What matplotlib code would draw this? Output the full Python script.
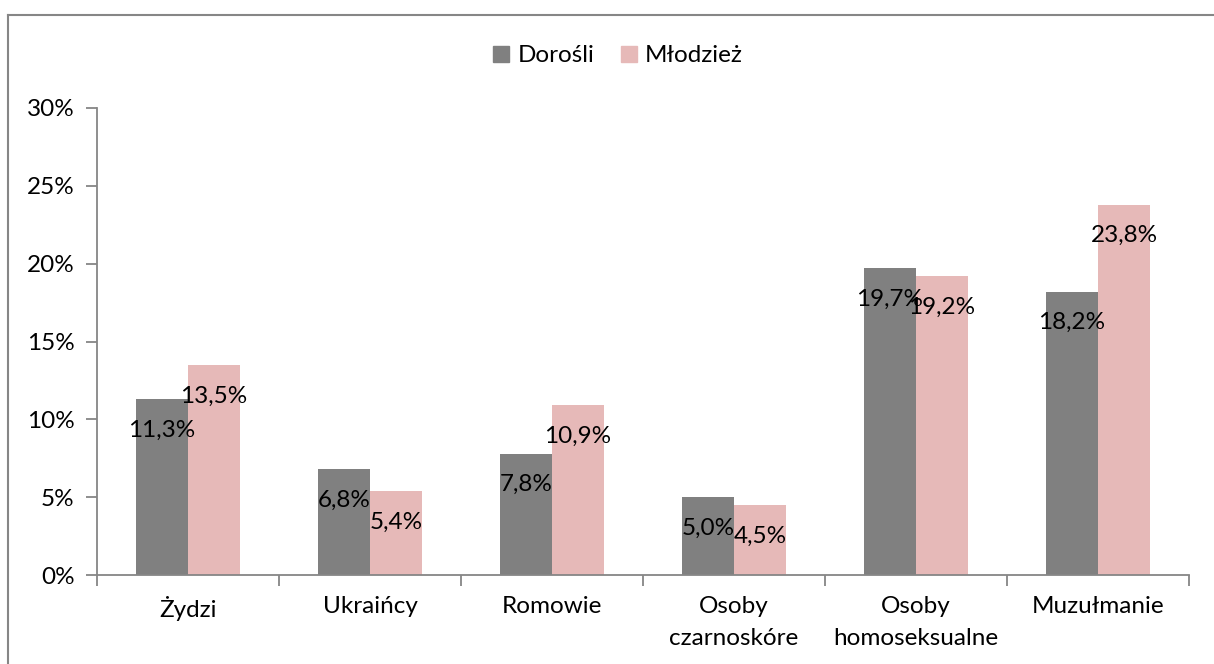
import numpy as np
import matplotlib.pyplot as plt
from matplotlib.patches import Patch

# --------------------------------------------------------------
# Data
# --------------------------------------------------------------
categories = ["Żydzi", "Ukraińcy", "Romowie", "Osoby\nczarnoskóre",
              "Osoby\nhomoseksualne", "Muzułmanie"]
dorosli = [11.3, 6.8, 7.8, 5.0, 19.7, 18.2]
mlodziez = [13.5, 5.4, 10.9, 4.5, 19.2, 23.8]
series_names = ["Dorośli", "Młodzież"]
yticks = [0, 5, 10, 15, 20, 25, 30]

# --------------------------------------------------------------
# Style
# --------------------------------------------------------------
plt.rcParams["font.family"] = ["Lato", "DejaVu Sans"]
fs = 17.5
c_dark = "#808080"
c_pink = "#E6B9B8"
c_axis = "#868686"

fig = plt.figure(figsize=(12.14, 6.64), dpi=100)
ax = fig.add_axes([97 / 1214, 1 - 575 / 664, (1189 - 97) / 1214, (575 - 108) / 664])

x = np.arange(len(categories))
w = 0.286
b1 = ax.bar(x - w / 2, dorosli, w, color=c_dark)
b2 = ax.bar(x + w / 2, mlodziez, w, color=c_pink)

# data labels, placed inside the end of each bar
for bars, vals in ((b1, dorosli), (b2, mlodziez)):
    for r, v in zip(bars, vals):
        ax.annotate(f"{v:.1f}%".replace(".", ","),
                    (r.get_x() + r.get_width() / 2, v),
                    xytext=(0, -31), textcoords="offset pixels",
                    ha="center", va="center", fontsize=fs, color="black")

ax.set_xlim(-0.5, len(categories) - 0.5)
ax.set_ylim(0, 30)
ax.set_yticks(yticks)
ax.set_yticklabels([f"{t}%" for t in yticks], fontsize=fs)

ax.set_xticks(x)
ax.set_xticklabels(categories, fontsize=fs, linespacing=1.65)
ax.set_xticks(np.arange(len(categories) + 1) - 0.5, minor=True)
ax.tick_params(axis="x", which="major", length=0, pad=15)
ax.tick_params(axis="x", which="minor", length=8, width=1.3, color=c_axis, direction="out")
ax.tick_params(axis="y", length=8, width=1.3, color=c_axis, pad=8)

for s in ("top", "right"):
    ax.spines[s].set_visible(False)
for s in ("left", "bottom"):
    ax.spines[s].set_color(c_axis)
    ax.spines[s].set_linewidth(1.3)

# legend on top
handles = [Patch(color=c_dark), Patch(color=c_pink)]
fig.legend(handles, series_names, loc="center", bbox_to_anchor=(618 / 1214, 1 - 56 / 664),
           ncol=2, frameon=False, fontsize=fs, handlelength=0.65, handleheight=0.65,
           handletextpad=0.35, columnspacing=1.1)

# outer chart border (left and top edges visible)
fig.add_artist(plt.Line2D([8 / 1214, 8 / 1214], [0, 1 - 15 / 664],
                          transform=fig.transFigure, color=c_axis, lw=1.5))
fig.add_artist(plt.Line2D([8 / 1214, 1], [1 - 15 / 664, 1 - 15 / 664],
                          transform=fig.transFigure, color=c_axis, lw=1.5))

fig.savefig("out.png", dpi=100)
